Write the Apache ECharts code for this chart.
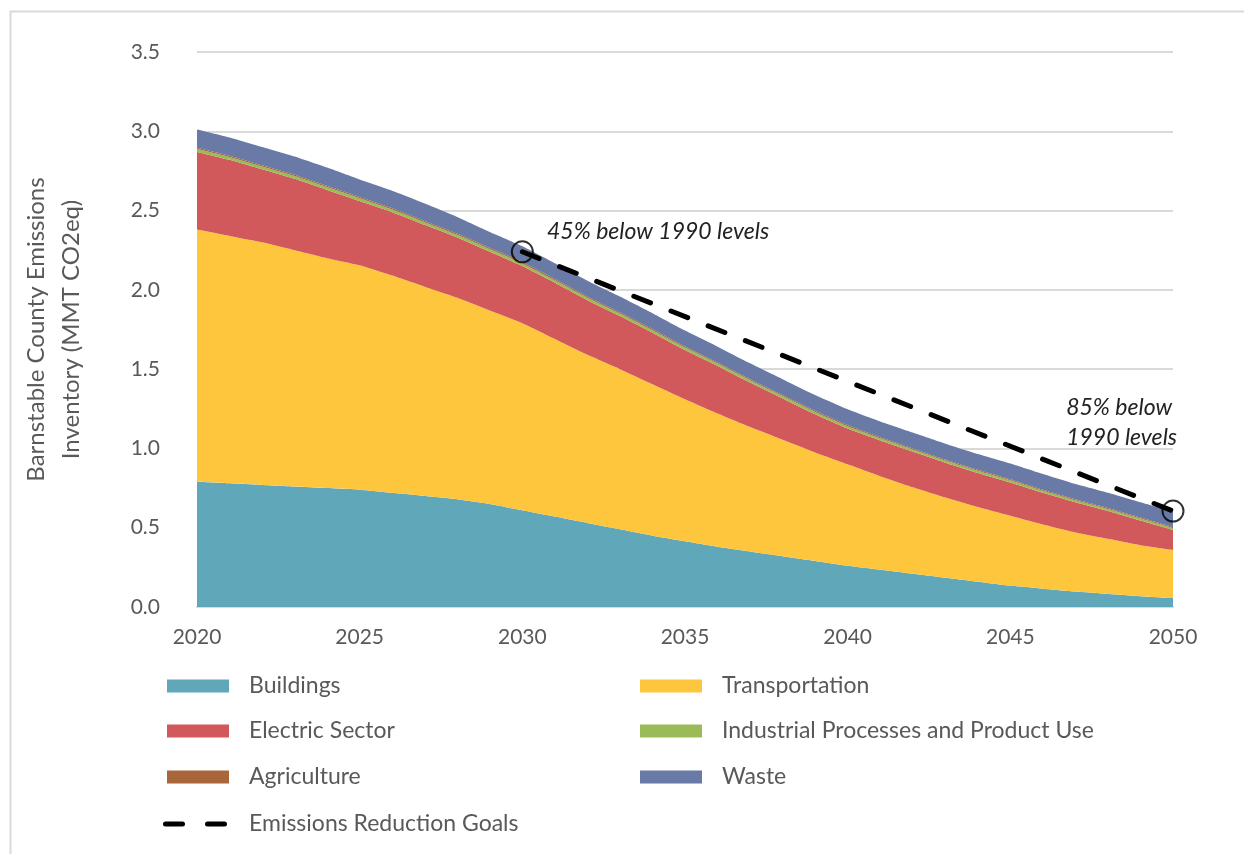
<!DOCTYPE html>
<html><head><meta charset="utf-8">
<script src="https://cdn.jsdelivr.net/npm/echarts@6/dist/echarts.min.js"></script>
<style>html,body{margin:0;padding:0;background:#fff}#c{width:1244px;height:854px}</style>
</head><body><div id="c"></div>
<script>
const years = ['2020','2021','2022','2023','2024','2025','2026','2027','2028','2029','2030','2031','2032','2033','2034','2035','2036','2037','2038','2039','2040','2041','2042','2043','2044','2045','2046','2047','2048','2049','2050'];
const buildings = [0.79,0.78,0.77,0.76,0.75,0.74,0.72,0.70,0.68,0.65,0.61,0.57,0.53,0.49,0.45,0.415,0.38,0.35,0.32,0.29,0.26,0.235,0.21,0.185,0.16,0.135,0.115,0.097,0.082,0.068,0.056];
const transportation = [1.59,1.56,1.53,1.49,1.45,1.415,1.37,1.32,1.27,1.22,1.18,1.12,1.06,1.01,0.955,0.895,0.84,0.785,0.735,0.685,0.64,0.59,0.545,0.505,0.47,0.44,0.405,0.373,0.348,0.322,0.304];
const electric = [0.49,0.48,0.46,0.45,0.43,0.405,0.40,0.39,0.38,0.37,0.36,0.355,0.345,0.335,0.325,0.31,0.30,0.28,0.26,0.24,0.225,0.225,0.225,0.22,0.215,0.21,0.20,0.19,0.175,0.155,0.125];
const industrial = [0.018,0.018,0.018,0.018,0.018,0.018,0.017,0.017,0.017,0.017,0.017,0.016,0.016,0.016,0.016,0.016,0.015,0.015,0.015,0.015,0.015,0.014,0.014,0.014,0.014,0.014,0.013,0.013,0.013,0.013,0.013];
const agriculture = [0.008,0.008,0.008,0.008,0.008,0.008,0.008,0.008,0.008,0.008,0.008,0.007,0.007,0.007,0.007,0.007,0.007,0.007,0.007,0.007,0.007,0.006,0.006,0.006,0.006,0.006,0.006,0.006,0.006,0.006,0.006];
const waste = [0.115,0.115,0.115,0.115,0.115,0.11,0.11,0.11,0.105,0.10,0.10,0.10,0.10,0.10,0.10,0.10,0.10,0.10,0.10,0.10,0.10,0.10,0.10,0.10,0.10,0.10,0.10,0.097,0.097,0.097,0.097];
const goalYears = ['2030','2050'];
const goalValues = [2.24,0.605];
const yTicks = [0,0.5,1.0,1.5,2.0,2.5,3.0,3.5];

const FONT = 'Lato';
const GREY = '#595959';
const names = ['Buildings','Transportation','Electric Sector','Industrial Processes and Product Use','Agriculture','Waste'];
const colors = ['#5fa7b9','#fec63d','#d2595b','#9bbb59','#a8663a','#6a7aa6'];
const vals = [buildings,transportation,electric,industrial,agriculture,waste];

const goalData = years.map(y => { const i = goalYears.indexOf(y); return i >= 0 ? goalValues[i] : null; });

const series = vals.map((v,i) => ({
  name: names[i], type: 'line', stack: 'total', data: v, symbol: 'none',
  color: colors[i], smooth: 0.15,
  lineStyle: {width: 0}, areaStyle: {color: colors[i], opacity: 1},
  emphasis: {disabled: true}, z: 2
}));
series.push({
  name: 'Emissions Reduction Goals', type: 'line', data: goalData, connectNulls: true, symbol: 'none',
  color: '#000',
  lineStyle: {color: '#000', width: 5, type: [18,22], cap: 'round'}, z: 5
});
series.push({
  name: 'goalMarkers', type: 'scatter', data: goalData, symbol: 'circle', symbolSize: 21,
  itemStyle: {color: 'rgba(0,0,0,0)', borderColor: '#000', borderWidth: 2}, z: 6
});

const dashIcon = 'path://M2.5,0 L19.5,0 A2.5,2.5 0 0 1 19.5,5 L2.5,5 A2.5,2.5 0 0 1 2.5,0 Z M44.5,0 L61.5,0 A2.5,2.5 0 0 1 61.5,5 L44.5,5 A2.5,2.5 0 0 1 44.5,0 Z';
const legendPos = [
  ['Buildings',167,674],['Transportation',640,674],
  ['Electric Sector',167,719],['Industrial Processes and Product Use',640,719],
  ['Agriculture',167,765],['Waste',640,765],
  ['Emissions Reduction Goals',163,812]
];
const legends = legendPos.map(([n,l,t]) => {
  const isGoal = n.startsWith('Emissions');
  return {
    data: [isGoal ? {name:n, icon: dashIcon, itemStyle: {color: '#000'}} : {name:n, icon:'rect'}],
    left: l, top: t, padding: 0,
    itemWidth: isGoal ? 64 : 62, itemHeight: isGoal ? 5 : 13,
    selectedMode: false,
    textStyle: {fontFamily: FONT, fontSize: 23, lineHeight: 24, color: GREY, padding: [0,0,0, isGoal ? 17 : 15]}
  };
});

const chart = echarts.init(document.getElementById('c'));
chart.setOption({
  backgroundColor: '#fff',
  animation: false,
  grid: {left: 197, right: 71, top: 52, bottom: 247},
  legend: legends,
  xAxis: {
    type: 'category', data: years, boundaryGap: false,
    axisLine: {lineStyle: {color: '#d9d9d9', width: 2}},
    axisTick: {show: false},
    axisLabel: {interval: 4, fontFamily: FONT, fontSize: 21, color: GREY, margin: 20}
  },
  yAxis: {
    type: 'value', min: 0, max: 3.5, interval: 0.5,
    name: 'Barnstable County Emissions\nInventory (MMT CO2eq)',
    nameLocation: 'middle', nameGap: 108,
    nameTextStyle: {fontFamily: FONT, fontSize: 24, color: GREY, lineHeight: 35},
    axisLine: {show: false}, axisTick: {show: false},
    axisLabel: {fontFamily: FONT, fontSize: 21, color: GREY, margin: 37,
      formatter: v => yTicks.includes(v) ? v.toFixed(1) : ''},
    splitLine: {lineStyle: {color: '#d9d9d9', width: 2}}
  },
  graphic: [
    {type: 'rect', left: 8, top: 9, shape: {width: 1400, height: 1000}, style: {fill: 'none', stroke: '#d9d9d9', lineWidth: 2}, silent: true},
    {type: 'text', left: 547, top: 220, style: {text: '45% below 1990 levels', font: 'italic 23px Lato', fill: '#222'}},
    {type: 'text', right: 67, top: 393, style: {text: '85% below\n1990 levels', font: 'italic 23px Lato', fill: '#222', align: 'right', lineHeight: 30}}
  ],
  series: series
});
</script>
</body></html>
